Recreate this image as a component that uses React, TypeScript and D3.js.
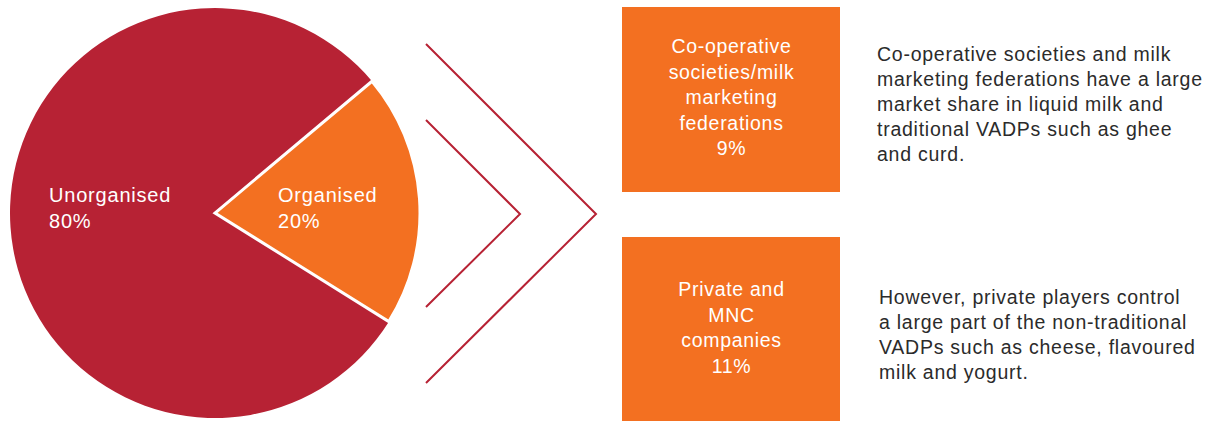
import React from "react";
import * as d3 from "d3";

const pieLabels = ["Unorganised", "Organised"];
const pieValues = [80, 20];
const pieColors = ["#b72234", "#f37021"];

const boxLabels = [
  ["Co-operative", "societies/milk", "marketing", "federations"],
  ["Private and", "MNC", "companies"],
];
const boxValues = [9, 11];

const descriptions = [
  [
    "Co-operative societies and milk",
    "marketing federations have a large",
    "market share in liquid milk and",
    "traditional VADPs such as ghee",
    "and curd.",
  ],
  [
    "However, private players control",
    "a large part of the non-traditional",
    "VADPs such as cheese, flavoured",
    "milk and yogurt.",
  ],
];

const W = 1216;
const H = 421;
const FONT = "'Liberation Sans', Arial, Helvetica, sans-serif";

export default function App() {
  const cx = 215;
  const cy = 213;
  const r = 205;
  const startDeg = 122;
  const pie = d3
    .pie<number>()
    .sort(null)
    .value((d) => d)
    .startAngle((startDeg * Math.PI) / 180)
    .endAngle(((startDeg + 360) * Math.PI) / 180);
  const arcs = pie(pieValues);
  const arc = d3.arc<d3.PieArcDatum<number>>().innerRadius(0).outerRadius(r);

  const labelPos = [
    { x: 49, y: 202 },
    { x: 278, y: 202 },
  ];

  // chevrons
  const chevronX0 = 426;
  const outer: [number, number][] = [
    [chevronX0, 44],
    [596, 214],
    [chevronX0, 383],
  ];
  const inner: [number, number][] = [
    [chevronX0, 120],
    [520, 214],
    [chevronX0, 307],
  ];
  const line = d3.line();

  const boxes = [
    { y: 7, h: 185, firstBaseline: 53 },
    { y: 237, h: 184, firstBaseline: 296 },
  ];
  const boxX = 622;
  const boxW = 218;
  const lh = 25.5;

  const descPos = [
    { x: 877, y: 61 },
    { x: 879, y: 304 },
  ];

  return (
    <svg
      width={W}
      height={H}
      style={{ position: "absolute", left: 0, top: 0, background: "#fff" }}
      fontFamily={FONT}
    >
      <g transform={`translate(${cx},${cy})`}>
        {arcs.map((a, i) => (
          <path
            key={i}
            d={arc(a) || ""}
            fill={pieColors[i]}
            stroke="#fff"
            strokeWidth={i === 1 ? 3 : 0}
            strokeLinejoin="miter"
          />
        ))}
      </g>
      {pieLabels.map((l, i) => (
        <text
          key={l}
          x={labelPos[i].x}
          y={labelPos[i].y}
          fill="#fff"
          fontSize={20}
          letterSpacing={0.8}
        >
          <tspan x={labelPos[i].x}>{l}</tspan>
          <tspan x={labelPos[i].x} dy={26}>
            {pieValues[i]}%
          </tspan>
        </text>
      ))}

      <path d={line(outer) || ""} fill="none" stroke="#b72234" strokeWidth={2} />
      <path d={line(inner) || ""} fill="none" stroke="#b72234" strokeWidth={2} />

      {boxes.map((b, i) => (
        <g key={i}>
          <rect x={boxX} y={b.y} width={boxW} height={b.h} fill="#f37021" />
          <text
            fill="#fff"
            fontSize={19.5}
            letterSpacing={0.7}
            textAnchor="middle"
          >
            {[...boxLabels[i], `${boxValues[i]}%`].map((t, j) => (
              <tspan key={j} x={boxX + boxW / 2 + 0.5} y={b.firstBaseline + j * lh}>
                {t}
              </tspan>
            ))}
          </text>
        </g>
      ))}

      {descriptions.map((lines, i) => (
        <text key={i} fill="#2b2b2b" fontSize={19.5} letterSpacing={0.75}>
          {lines.map((t, j) => (
            <tspan key={j} x={descPos[i].x} y={descPos[i].y + j * 25}>
              {t}
            </tspan>
          ))}
        </text>
      ))}
    </svg>
  );
}
